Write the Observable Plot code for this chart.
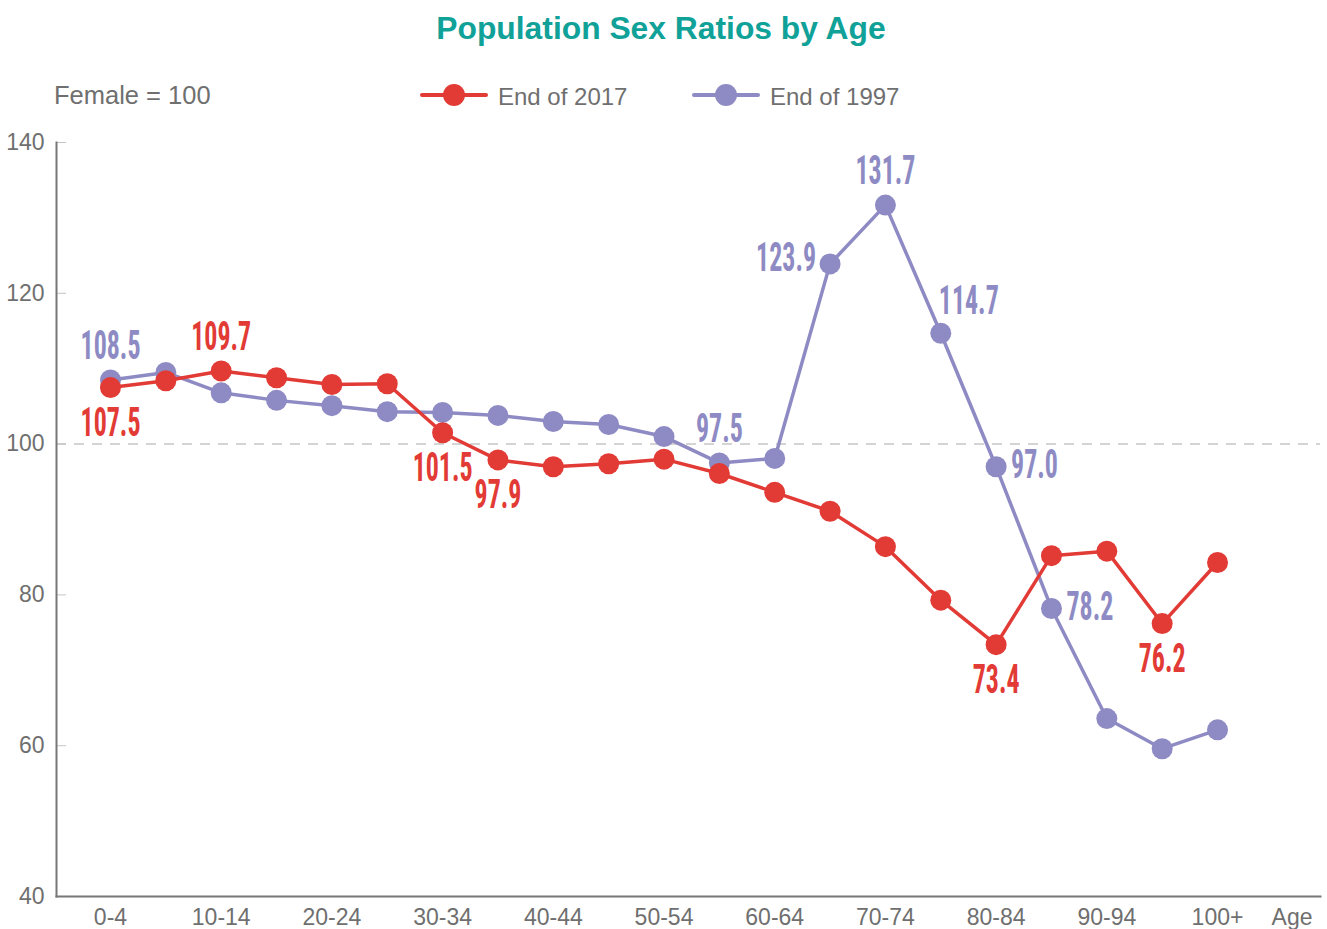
<!DOCTYPE html>
<html><head><meta charset="utf-8">
<script src="https://cdn.jsdelivr.net/npm/d3@7"></script>
<script src="https://cdn.jsdelivr.net/npm/@observablehq/plot@0.6"></script>
<style>
body{margin:0;background:#fff;font-family:"Liberation Sans",Arial,sans-serif;}
#wrap{position:relative;width:1327px;height:929px;overflow:hidden;background:#fff}
#header,#chart svg{display:block}
</style></head>
<body><div id="wrap"><svg id="header" width="1327" height="120"></svg><div id="chart"></div></div>
<script>
// ---- data ----
const title = "Population Sex Ratios by Age";
const note = "Female = 100";
const seriesNames = ["End of 2017", "End of 1997"];
const ages = ["0-4","5-9","10-14","15-19","20-24","25-29","30-34","35-39","40-44","45-49","50-54",
              "55-59","60-64","65-69","70-74","75-79","80-84","85-89","90-94","95-99","100+"];
const ratio2017 = [107.5,108.4,109.7,108.8,107.9,108.0,101.5,97.9,97.0,97.4,98.0,
                   96.1,93.6,91.1,86.4,79.3,73.4,85.2,85.8,76.2,84.3];
const ratio1997 = [108.5,109.5,106.8,105.8,105.1,104.3,104.2,103.8,103.0,102.6,101.0,
                   97.5,98.1,123.9,131.7,114.7,97.0,78.2,63.6,59.6,62.1];
const xTickLabels = ["0-4","10-14","20-24","30-34","40-44","50-54","60-64","70-74","80-84","90-94","100+"];
const yTicks = [40,60,80,100,120,140];
const referenceLine = [100];
const labeled2017 = ["0-4","10-14","30-34","35-39","80-84","95-99"];
const labeled1997 = ["0-4","55-59","65-69","70-74","75-79","80-84","85-89"];
const axisTitle = "Age";

// ---- styling ----
const RED = "#e23a35", PURPLE = "#8e8bc4", TEAL = "#10a198", GREY = "#6f6f6f";
const placement2017 = {"0-4":"below","10-14":"above","30-34":"below","35-39":"below","80-84":"below","95-99":"below"};
const placement1997 = {"0-4":"above","55-59":"above","65-69":"left","70-74":"above","75-79":"aboveRight","80-84":"right","85-89":"right"};
const place = {
  above: {textAnchor:"middle", dx:0, dy:-34},
  below: {textAnchor:"middle", dx:0, dy:35},
  left: {textAnchor:"end", dx:-14, dy:-6},
  right: {textAnchor:"start", dx:15, dy:-2},
  aboveRight: {textAnchor:"start", dx:-2, dy:-32}
};

// ---- header ----
const header = d3.select("#header");
header.append("text").attr("x", 661).attr("y", 39).attr("text-anchor","middle")
  .attr("font-size", 31.8).attr("font-weight","bold").attr("fill", TEAL).text(title);
header.append("text").attr("x", 54).attr("y", 104).attr("font-size", 25.5).attr("fill", GREY).text(note);
const legendX = [422, 694];
[RED, PURPLE].forEach((c, i) => {
  const g = header.append("g").attr("transform", `translate(${legendX[i]},95)`);
  g.append("line").attr("x1",0).attr("x2",64).attr("stroke",c).attr("stroke-width",4).attr("stroke-linecap","round");
  g.append("circle").attr("cx",32).attr("r",11).attr("fill",c);
  g.append("text").attr("x",76).attr("y",10).attr("font-size",24).attr("fill",GREY).text(seriesNames[i]);
});

// ---- chart ----
const rows2017 = ages.map((a,i) => ({age:a, value:ratio2017[i]}));
const rows1997 = ages.map((a,i) => ({age:a, value:ratio1997[i]}));
const fmt = d3.format(".1f");
const LABEL_FONT = '"Roboto Condensed", "Liberation Sans Narrow", "DejaVu Sans Condensed", sans-serif';
function labelMarks(rows, list, placement, color) {
  return rows.filter(r => list.includes(r.age)).map(r => {
    const p = place[placement[r.age]];
    return Plot.text([r], {x:"age", y:"value", text: d => fmt(d.value), fill: color,
      fontSize: 41, fontWeight: "bold", fontFamily: LABEL_FONT,
      textAnchor: p.textAnchor, dx: p.dx, dy: p.dy, lineAnchor: "middle"});
  });
}

const plot = Plot.plot({
  width: 1327, height: 809,
  marginTop: 22, marginBottom: 33, marginLeft: 56, marginRight: 7,
  style: {fontFamily: '"Liberation Sans", Arial, sans-serif', background: "white", overflow: "visible"},
  x: {type: "point", domain: ages, padding: 1.418, align: 0.344, round: false, axis: null},
  y: {domain: [40, 140], axis: null},
  marks: [
    Plot.ruleY(referenceLine, {stroke: "#c6c6c6", strokeWidth: 1.5, strokeDasharray: "10,8"}),
    Plot.axisY({ticks: yTicks, tickSize: -10, tickFormat: () => "", stroke: "#c4c4c4", label: null}),
    Plot.axisY({ticks: yTicks, tickSize: 0, tickPadding: 12, fontSize: 23, fill: GREY, label: null}),
    Plot.axisX({ticks: xTickLabels, tickSize: 0, tickPadding: 12, fontSize: 23, fill: GREY, label: null}),
    Plot.frame({anchor: "left", stroke: "#777", strokeWidth: 2}),
    Plot.frame({anchor: "bottom", stroke: "#777", strokeWidth: 2}),
    Plot.text([axisTitle], {frameAnchor: "bottom-right", textAnchor: "end", dx: -8, dy: 21, fontSize: 23, fill: GREY, lineAnchor: "middle"}),
    Plot.line(rows1997, {x: "age", y: "value", stroke: PURPLE, strokeWidth: 3.5}),
    Plot.line(rows2017, {x: "age", y: "value", stroke: RED, strokeWidth: 3.5}),
    Plot.dot(rows1997, {x: "age", y: "value", r: 10.5, fill: PURPLE}),
    Plot.dot(rows2017, {x: "age", y: "value", r: 10.5, fill: RED}),
    ...labelMarks(rows1997, labeled1997, placement1997, PURPLE),
    ...labelMarks(rows2017, labeled2017, placement2017, RED)
  ]
});
document.getElementById("chart").append(plot);

// condense the value labels horizontally so "109.7" is about 60px wide, like the reference
const labelTexts = [...plot.querySelectorAll('g[font-family*="Condensed"] text')];
const refText = labelTexts.find(el => el.textContent === "109.7");
const factor = refText ? Math.min(1, 60 / refText.getComputedTextLength()) : 0.6;
labelTexts.forEach(el => {
  const t = el.getAttribute("transform") || "";
  el.setAttribute("transform", `${t} scale(${factor},1)`);
});
</script>
</body></html>
